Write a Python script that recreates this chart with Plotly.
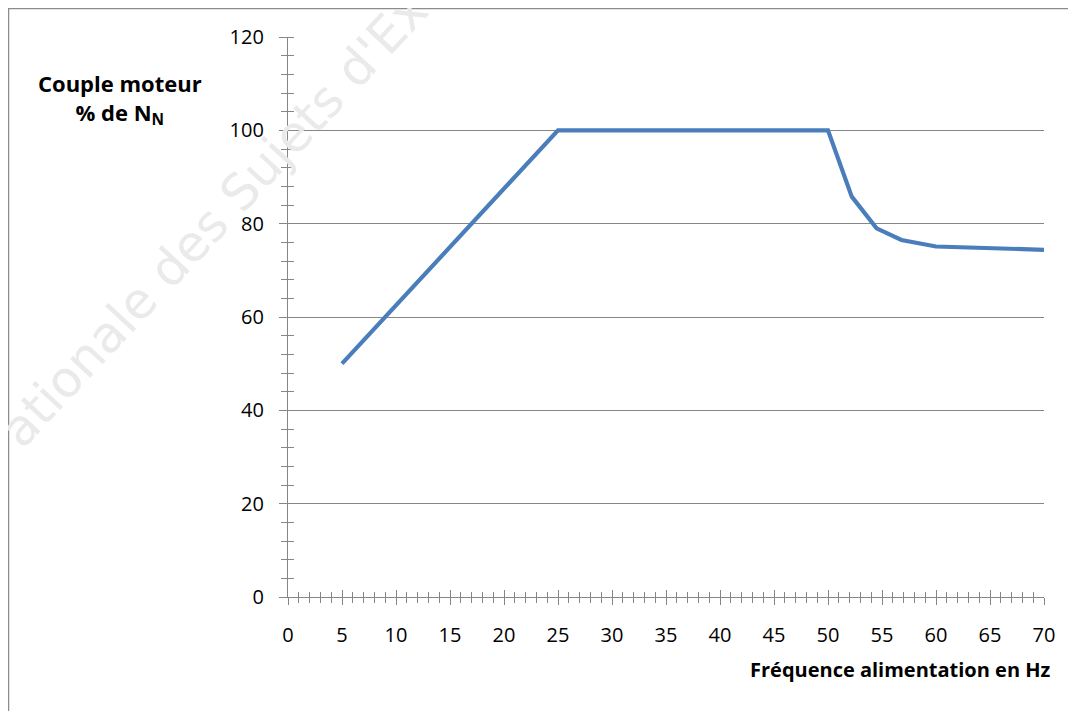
import plotly.graph_objects as go

freq_hz = [5, 25, 50, 52.2, 54.5, 56.8, 60, 70]
couple_pct = [50, 100, 100, 85.8, 79.0, 76.5, 75.1, 74.4]
x_ticks = [0, 5, 10, 15, 20, 25, 30, 35, 40, 45, 50, 55, 60, 65, 70]
y_ticks = [0, 20, 40, 60, 80, 100, 120]

AX = "#868686"
FONT = "Open Sans"

fig = go.Figure()
fig.add_trace(go.Scatter(
    x=freq_hz, y=couple_pct, mode="lines",
    line=dict(color="#4A7EBB", width=4.2),
    showlegend=False, hoverinfo="skip",
))
# helper trace for the inner half of the cross ticks
fig.add_trace(go.Scatter(
    x=freq_hz, y=couple_pct, mode="lines", xaxis="x2", yaxis="y2",
    line=dict(color="rgba(0,0,0,0)", width=0),
    showlegend=False, hoverinfo="skip",
))

fig.update_layout(
    width=1076, height=711,
    margin=dict(l=280, r=40, t=29, b=122),
    paper_bgcolor="white", plot_bgcolor="white",
    font=dict(family=FONT, size=20, color="black"),
    xaxis=dict(
        range=[0, 70], tickvals=x_ticks, ticktext=[str(v) for v in x_ticks],
        showgrid=False, zeroline=False,
        showline=True, linecolor=AX, linewidth=1.3,
        ticks="outside", ticklen=7, tickcolor=AX, tickwidth=1.3,
        minor=dict(dtick=1, ticks="outside", ticklen=5, tickcolor=AX, tickwidth=1.3),
        ticklabelstandoff=13,
        tickfont=dict(family=FONT, size=20, color="black"),
    ),
    yaxis=dict(
        range=[0, 120], tickvals=y_ticks, ticktext=[str(v) for v in y_ticks],
        showgrid=True, gridcolor=AX, gridwidth=1.3, zeroline=False,
        showline=True, linecolor=AX, linewidth=1.3,
        ticks="outside", ticklen=8, tickcolor=AX, tickwidth=1.3,
        minor=dict(dtick=4, ticks="outside", ticklen=6, tickcolor=AX, tickwidth=1.3),
        ticklabelstandoff=11,
        tickfont=dict(family=FONT, size=20, color="black"),
    ),
    xaxis2=dict(
        overlaying="x", range=[0, 70], showticklabels=False, showgrid=False,
        zeroline=False, showline=False, tickvals=x_ticks,
        ticks="inside", ticklen=7, tickcolor=AX, tickwidth=1.3,
        minor=dict(dtick=1, ticks="inside", ticklen=5, tickcolor=AX, tickwidth=1.3),
    ),
    yaxis2=dict(
        overlaying="y", range=[0, 120], showticklabels=False, showgrid=False,
        zeroline=False, showline=False, tickvals=y_ticks,
        ticks="",
        minor=dict(dtick=4, ticks="inside", ticklen=6, tickcolor=AX, tickwidth=1.3),
    ),
)

fig.add_annotation(
    xref="paper", yref="paper", x=(120 - 288) / 756, y=(597 - 99) / 560,
    text="<b>Couple moteur</b><br><b>% de N<sub>N</sub></b>",
    showarrow=False, xanchor="center", yanchor="middle", align="center",
    font=dict(family=FONT, size=22, color="black"),
)
fig.add_annotation(
    xref="paper", yref="paper", x=(748 - 288) / 756, y=(597 - 669) / 560,
    text="<b>Fréquence alimentation en Hz</b>",
    showarrow=False, xanchor="left", yanchor="middle",
    font=dict(family=FONT, size=20, color="black"),
)
# watermark
fig.add_annotation(
    xref="paper", yref="paper", x=(214 - 288) / 756, y=(597 - 220) / 560,
    text="ationale des Sujets d'Ex",
    showarrow=False, textangle=-47, xanchor="center", yanchor="middle",
    font=dict(family="DejaVu Sans", size=50, color="#eaeaea"),
)
# outer frame
fig.add_shape(
    type="rect", xref="paper", yref="paper",
    x0=(8.5 - 288) / 756, x1=1.1, y0=-0.25, y1=(597 - 8.5) / 560,
    line=dict(color="#8c8c8c", width=1.5), layer="below",
)

fig.write_html("out.html")
